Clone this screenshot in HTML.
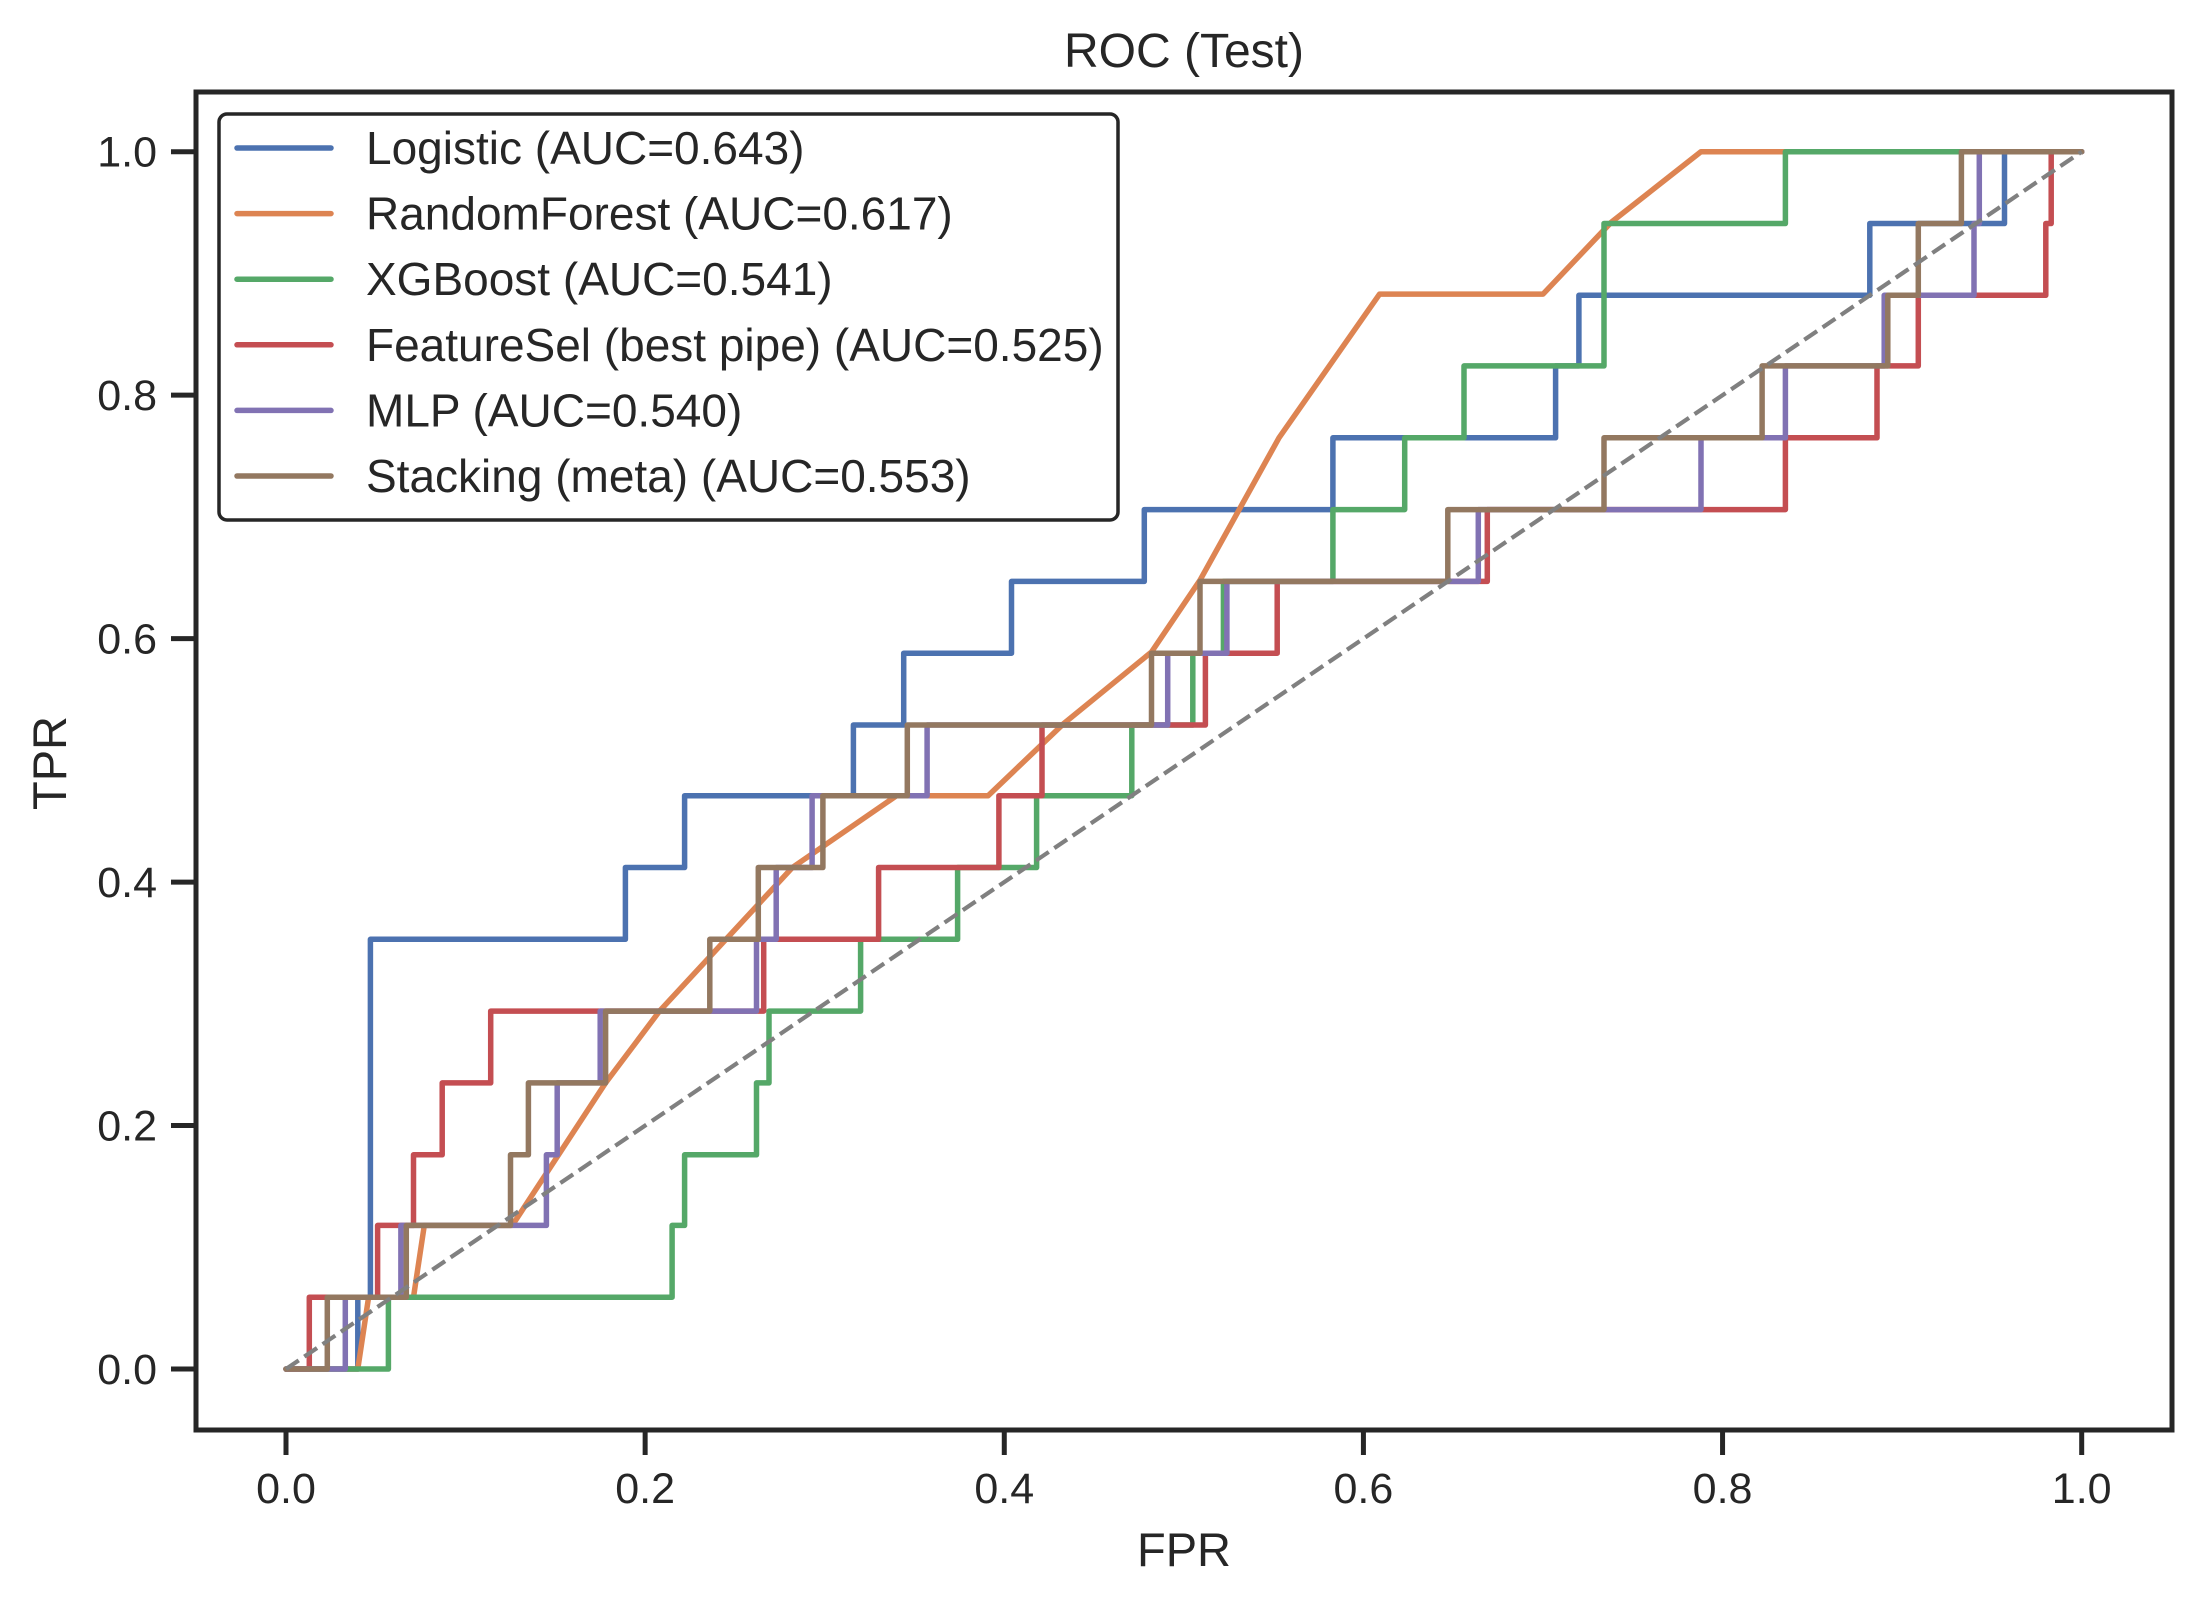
<!DOCTYPE html>
<html><head><meta charset="utf-8"><style>
html,body{margin:0;padding:0;background:#fff;}
svg{display:block;font-family:"Liberation Sans",Arial,sans-serif;}
</style></head><body>
<svg id="chart" width="2201" height="1603" viewBox="0 0 2201 1603" xmlns="http://www.w3.org/2000/svg">
<rect x="0" y="0" width="2201" height="1603" fill="#fff"/>
<text x="1184" y="67" font-size="48" text-anchor="middle" fill="#262626">ROC (Test)</text>
<text x="1184" y="1566" font-size="47" text-anchor="middle" fill="#262626">FPR</text>
<text transform="translate(66,763) rotate(-90)" font-size="47" text-anchor="middle" fill="#262626">TPR</text>
<g id="ticks"></g>
<g id="series"></g>
<rect x="196" y="92" width="1976" height="1338" fill="none" stroke="#262626" stroke-width="5"/>
<g id="legend"></g>
</svg>
<script>
const tickValues = [0, 0.2, 0.4, 0.6, 0.8, 1.0];
const tickLabels = ["0.0", "0.2", "0.4", "0.6", "0.8", "1.0"];
const seriesNames = ["Logistic (AUC=0.643)", "RandomForest (AUC=0.617)", "XGBoost (AUC=0.541)", "FeatureSel (best pipe) (AUC=0.525)", "MLP (AUC=0.540)", "Stacking (meta) (AUC=0.553)"];
const seriesColors = ["#4C72B0", "#DD8452", "#55A868", "#C44E52", "#8172B3", "#937860"];
const logisticFpr = [0,0.040,0.040,0.047,0.047,0.189,0.189,0.222,0.222,0.316,0.316,0.344,0.344,0.404,0.404,0.478,0.478,0.583,0.583,0.707,0.707,0.720,0.720,0.882,0.882,0.957,0.957,1];
const logisticTpr = [0,0,0.059,0.059,0.353,0.353,0.412,0.412,0.471,0.471,0.529,0.529,0.588,0.588,0.647,0.647,0.706,0.706,0.765,0.765,0.824,0.824,0.882,0.882,0.941,0.941,1,1];
const rfFpr = [0,0.040,0.046,0.071,0.077,0.126,0.178,0.208,0.282,0.340,0.391,0.433,0.482,0.509,0.553,0.609,0.700,0.738,0.788,1];
const rfTpr = [0,0,0.059,0.059,0.118,0.118,0.235,0.294,0.412,0.471,0.471,0.530,0.589,0.648,0.765,0.883,0.883,0.942,1,1];
const xgbFpr = [0,0.057,0.057,0.215,0.215,0.222,0.222,0.262,0.262,0.269,0.269,0.320,0.320,0.374,0.374,0.418,0.418,0.471,0.471,0.505,0.505,0.522,0.522,0.583,0.583,0.623,0.623,0.656,0.656,0.734,0.734,0.835,0.835,1];
const xgbTpr = [0,0,0.059,0.059,0.118,0.118,0.176,0.176,0.235,0.235,0.294,0.294,0.353,0.353,0.412,0.412,0.471,0.471,0.529,0.529,0.588,0.588,0.647,0.647,0.706,0.706,0.765,0.765,0.824,0.824,0.941,0.941,1,1];
const fsFpr = [0,0.013,0.013,0.051,0.051,0.071,0.071,0.087,0.087,0.114,0.114,0.266,0.266,0.330,0.330,0.397,0.397,0.421,0.421,0.512,0.512,0.552,0.552,0.669,0.669,0.835,0.835,0.886,0.886,0.909,0.909,0.980,0.980,0.983,0.983,1];
const fsTpr = [0,0,0.059,0.059,0.118,0.118,0.176,0.176,0.235,0.235,0.294,0.294,0.353,0.353,0.412,0.412,0.471,0.471,0.529,0.529,0.588,0.588,0.647,0.647,0.706,0.706,0.765,0.765,0.824,0.824,0.882,0.882,0.941,0.941,1,1];
const mlpFpr = [0,0.033,0.033,0.064,0.064,0.145,0.145,0.151,0.151,0.175,0.175,0.262,0.262,0.273,0.273,0.293,0.293,0.357,0.357,0.491,0.491,0.524,0.524,0.664,0.664,0.788,0.788,0.835,0.835,0.890,0.890,0.940,0.940,0.943,0.943,1];
const mlpTpr = [0,0,0.059,0.059,0.118,0.118,0.176,0.176,0.235,0.235,0.294,0.294,0.353,0.353,0.412,0.412,0.471,0.471,0.529,0.529,0.588,0.588,0.647,0.647,0.706,0.706,0.765,0.765,0.824,0.824,0.882,0.882,0.941,0.941,1,1];
const stackFpr = [0,0.023,0.023,0.067,0.067,0.125,0.125,0.135,0.135,0.178,0.178,0.236,0.236,0.263,0.263,0.299,0.299,0.346,0.346,0.482,0.482,0.509,0.509,0.647,0.647,0.734,0.734,0.822,0.822,0.892,0.892,0.909,0.909,0.933,0.933,1];
const stackTpr = [0,0,0.059,0.059,0.118,0.118,0.176,0.176,0.235,0.235,0.294,0.294,0.353,0.353,0.412,0.412,0.471,0.471,0.529,0.529,0.588,0.588,0.647,0.647,0.706,0.706,0.765,0.765,0.824,0.824,0.882,0.882,0.941,0.941,1,1];
const diagFpr = [0, 1];
const diagTpr = [0, 1];

const NS = "http://www.w3.org/2000/svg";
function xs(v){ return 286 + v * 1795.7; }
function ys(v){ return 1369 - v * 1217.3; }
const ticksG = document.getElementById('ticks');
const seriesG = document.getElementById('series');
const legendG = document.getElementById('legend');
function mk(tag, parent){ const e = document.createElementNS(NS, tag); parent.appendChild(e); return e; }

tickValues.forEach((v, i) => {
  const tx = mk('line', ticksG);
  tx.setAttribute('x1', xs(v)); tx.setAttribute('x2', xs(v));
  tx.setAttribute('y1', 1430); tx.setAttribute('y2', 1455);
  tx.setAttribute('stroke', '#262626'); tx.setAttribute('stroke-width', 5);
  
  
  const lx = mk('text', ticksG);
  lx.setAttribute('x', xs(v)); lx.setAttribute('y', 1503);
  lx.setAttribute('font-size', 43); lx.setAttribute('text-anchor', 'middle'); lx.setAttribute('fill', '#262626');
  lx.textContent = tickLabels[i];
  
  
  const ty = mk('line', ticksG);
  ty.setAttribute('x1', 171); ty.setAttribute('x2', 196);
  ty.setAttribute('y1', ys(v)); ty.setAttribute('y2', ys(v));
  ty.setAttribute('stroke', '#262626'); ty.setAttribute('stroke-width', 5);
  
  
  const ly = mk('text', ticksG);
  ly.setAttribute('x', 157); ly.setAttribute('y', ys(v) + 15);
  ly.setAttribute('font-size', 43); ly.setAttribute('text-anchor', 'end'); ly.setAttribute('fill', '#262626');
  ly.textContent = tickLabels[i];
  
  
});

const allFpr = [logisticFpr, rfFpr, xgbFpr, fsFpr, mlpFpr, stackFpr];
const allTpr = [logisticTpr, rfTpr, xgbTpr, fsTpr, mlpTpr, stackTpr];
const curveNames = ['logistic-curve', 'randomforest-curve', 'xgboost-curve', 'featuresel-curve', 'mlp-curve', 'stacking-curve'];
allFpr.forEach((f, s) => {
  const t = allTpr[s];
  const pts = f.map((v, i) => xs(v).toFixed(1) + ',' + ys(t[i]).toFixed(1)).join(' ');
  const pl = mk('polyline', seriesG);
  pl.setAttribute('points', pts);
  pl.setAttribute('fill', 'none');
  pl.setAttribute('stroke', seriesColors[s]);
  pl.setAttribute('stroke-width', 5.5);
  pl.setAttribute('stroke-linejoin', 'round');
  pl.setAttribute('stroke-linecap', 'round');
  
  
});
const dg = mk('polyline', seriesG);
dg.setAttribute('points', diagFpr.map((v, i) => xs(v) + ',' + ys(diagTpr[i])).join(' '));
dg.setAttribute('fill', 'none');
dg.setAttribute('stroke', '#808080');
dg.setAttribute('stroke-width', 4.2);
dg.setAttribute('stroke-dasharray', '15.4 6.7');



const box = mk('rect', legendG);
box.setAttribute('x', 219); box.setAttribute('y', 114);
box.setAttribute('width', 899); box.setAttribute('height', 406);
box.setAttribute('rx', 8); box.setAttribute('fill', '#fff');
box.setAttribute('stroke', '#262626'); box.setAttribute('stroke-width', 3.5);


seriesNames.forEach((n, i) => {
  const cy = 148 + i * 65.6;
  const ln = mk('line', legendG);
  ln.setAttribute('x1', 237); ln.setAttribute('x2', 331);
  ln.setAttribute('y1', cy); ln.setAttribute('y2', cy);
  ln.setAttribute('stroke', seriesColors[i]); ln.setAttribute('stroke-width', 5.5);
  ln.setAttribute('stroke-linecap', 'round');
  
  
  const tx = mk('text', legendG);
  tx.setAttribute('x', 366); tx.setAttribute('y', cy + 16);
  tx.setAttribute('font-size', 46); tx.setAttribute('fill', '#262626');
  tx.textContent = n;
  
  
});
</script>
</body></html>
